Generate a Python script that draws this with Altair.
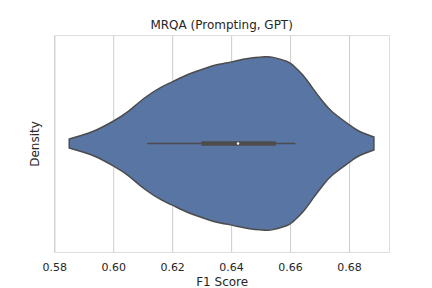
import altair as alt
import pandas as pd

# Violin outline: F1 score positions and (relative) density half-widths
f1_values = [0.58508, 0.58939, 0.59390, 0.60014, 0.60522, 0.61085, 0.61651,
             0.61990, 0.62556, 0.63007, 0.63447, 0.64014, 0.64576, 0.65142,
             0.65424, 0.65878, 0.66102, 0.66441, 0.66780, 0.67119, 0.67458,
             0.68000, 0.68363, 0.68847]
density = [0.052, 0.095, 0.150, 0.260, 0.373, 0.531, 0.654,
           0.709, 0.799, 0.854, 0.903, 0.942, 0.980, 1.000,
           0.994, 0.949, 0.903, 0.788, 0.634, 0.481, 0.358,
           0.219, 0.138, 0.075]

# Inner box summary
whisker_lo, whisker_hi = 0.61153, 0.66183
q1, q3 = 0.62997, 0.65515
median = 0.64237

tick_values = [0.58, 0.60, 0.62, 0.64, 0.66, 0.68]
title_text = "MRQA (Prompting, GPT)"

FONT = "DejaVu Sans"
TXT = "#262626"
FILL = "#5975a4"
EDGE = "#4c4c4c"
W, H = 335, 217

df = pd.DataFrame({"f1": f1_values, "d": density})
df["neg"] = -df["d"]

box_df = pd.DataFrame({"wlo": [whisker_lo], "whi": [whisker_hi],
                       "q1": [q1], "q3": [q3], "med": [median], "zero": [0.0],
                       "title": [title_text]})

xscale = alt.Scale(domain=[0.58, 0.6936], nice=False, zero=False)
yscale = alt.Scale(domain=[-1.2514, 1.2514], nice=False, zero=False)

xaxis = alt.Axis(title="F1 Score", values=tick_values, format=".2f",
                 grid=True, gridColor="#cccccc", gridWidth=1,
                 domain=False, ticks=False, tickSize=0,
                 labelFlush=False, labelOverlap=False,
                 labelFont=FONT, labelFontSize=11, labelColor=TXT,
                 labelBaseline="alphabetic", labelPadding=19,
                 titleFont=FONT, titleFontSize=12, titleColor=TXT,
                 titleFontWeight="normal", titleBaseline="alphabetic",
                 titleY=34, titleX=W / 2, titleAlign="center")
yaxis = alt.Axis(title="Density", labels=False, ticks=False, domain=False,
                 grid=False, titleFont=FONT, titleFontSize=12,
                 titleColor=TXT, titleFontWeight="normal",
                 titleBaseline="alphabetic", titleAngle=270,
                 titleX=-15.5, titleY=H / 2, titleAlign="center")

violin = alt.Chart(df).mark_area(
    color=FILL, fill=FILL, stroke=EDGE, strokeWidth=1.5,
    interpolate="natural", orient="vertical", opacity=1
).encode(
    x=alt.X("f1:Q", scale=xscale, axis=xaxis),
    y=alt.Y("d:Q", scale=yscale, axis=yaxis),
    y2="neg:Q",
)

whisker = alt.Chart(box_df).mark_rule(color=EDGE, strokeWidth=1.6).encode(
    x=alt.X("wlo:Q", scale=xscale),
    x2="whi:Q",
    y=alt.Y("zero:Q", scale=yscale),
)

box = alt.Chart(box_df).mark_rule(color=EDGE, strokeWidth=4.4).encode(
    x=alt.X("q1:Q", scale=xscale),
    x2="q3:Q",
    y=alt.Y("zero:Q", scale=yscale),
)

med = alt.Chart(box_df).mark_point(filled=True, color="white", size=6,
                                   opacity=1).encode(
    x=alt.X("med:Q", scale=xscale),
    y=alt.Y("zero:Q", scale=yscale),
)

title = alt.Chart(box_df).mark_text(
    font=FONT, fontSize=12, color=TXT, align="center", baseline="alphabetic"
).encode(
    text="title:N",
    x=alt.value(W / 2),
    y=alt.value(-6.3),
)

chart = alt.layer(violin, whisker, box, med, title).properties(
    width=W, height=H,
    autosize=alt.AutoSizeParams(type="none"),
    padding={"left": 46.3, "top": 27, "right": 35, "bottom": 36},
).configure_view(
    stroke="#cccccc", strokeWidth=1.2
).configure(background="white")

chart.save("out.html", embed_options={"renderer": "svg", "actions": False})
